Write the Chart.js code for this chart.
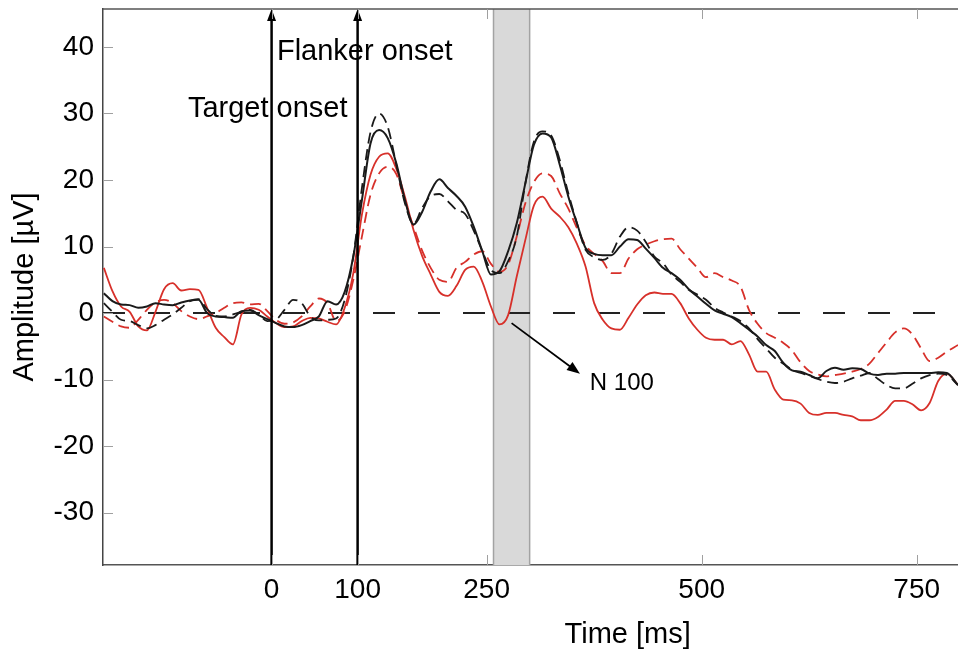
<!DOCTYPE html>
<html><head><meta charset="utf-8">
<script src="https://cdn.jsdelivr.net/npm/chart.js@4.4.1/dist/chart.umd.min.js"></script>
<style>html,body{margin:0;padding:0;background:#fff;}canvas{display:block;}</style>
</head><body>
<canvas id="c" width="958" height="655"></canvas>
<script>
// ---- data (time in ms, amplitude in µV) ----
const times = [-195,-185,-175,-165,-155,-145,-135,-125,-115,-105,-95,-85,-75,-65,-55,-45,-35,-25,-15,-5,5,15,25,35,45,55,65,75,85,95,105,115,125,135,145,155,165,175,185,195,205,215,225,235,245,255,265,275,285,295,305,315,325,335,345,355,365,375,385,395,405,415,425,435,445,455,465,475,485,495,505,515,525,535,545,555,565,575,585,595,605,615,625,635,645,655,665,675,685,695,705,715,725,735,745,755,765,775,785,798];
const blackSolid = [3.0,1.8,1.3,1.2,0.8,1.0,1.5,1.3,1.2,1.6,1.9,2.0,0.0,-0.5,-0.6,-0.7,0.3,0.4,-0.3,-0.9,-1.5,-2.0,-2.1,-1.8,-1.2,-0.5,1.8,1.3,3.2,8.5,17.0,25.5,27.5,26.3,22.5,17.0,13.3,15.2,18.3,20.1,18.8,17.6,16.0,13.0,9.3,5.8,6.3,9.3,13.5,19.5,25.3,27.0,26.4,22.3,17.5,13.5,9.8,8.9,8.7,8.7,10.0,11.1,11.0,9.7,8.3,6.8,6.0,5.0,3.6,2.5,1.4,0.4,-0.1,-0.6,-1.5,-2.5,-3.5,-4.8,-5.7,-7.5,-8.6,-8.8,-9.3,-9.8,-8.7,-8.2,-8.5,-8.3,-8.4,-9.1,-9.3,-9.1,-9.1,-9.0,-9.0,-9.0,-9.0,-8.9,-9.0,-10.8];
const blackDashed = [1.5,0.2,-1.0,-1.2,-1.8,-2.3,-1.8,-1.0,-0.2,0.8,1.8,2.1,0.6,-0.4,-0.5,-0.2,0.2,0.5,-0.2,-1.2,-1.0,0.5,2.0,1.5,-0.5,-1.1,-1.0,-0.8,2.0,8.5,18.8,27.2,30.0,28.0,22.3,16.5,13.4,15.8,17.6,17.9,16.8,15.5,14.9,12.4,9.3,6.5,6.0,7.8,11.5,19.5,25.8,27.3,26.7,23.0,18.0,13.5,9.5,8.4,8.0,8.9,11.5,12.9,12.4,10.7,8.5,7.5,5.8,4.7,3.5,2.8,2.0,0.8,0.1,-0.5,-1.2,-2.3,-3.9,-5.3,-6.7,-7.6,-8.5,-9.0,-9.4,-9.9,-10.3,-10.5,-10.3,-9.8,-9.4,-9.0,-9.9,-10.8,-11.3,-11.3,-10.6,-9.8,-9.3,-9.1,-9.3,-10.8];
const redSolid = [6.8,3.3,1.0,0.2,-2.0,-2.6,0.2,3.6,4.5,3.4,3.6,3.5,0.8,-2.2,-3.6,-4.7,-0.2,0.8,0.5,-0.5,-1.5,-2.1,-2.0,-1.2,-0.7,-0.8,-1.3,-1.7,0.8,6.0,14.8,20.8,23.5,24.0,21.7,17.5,12.5,8.6,5.8,3.2,2.6,4.1,6.5,7.0,4.7,1.0,-1.7,-0.3,5.5,11.0,16.2,17.5,15.7,14.5,12.9,10.4,7.0,1.5,-1.0,-2.3,-2.5,-0.7,1.3,2.7,3.1,2.9,2.9,1.5,-0.8,-2.5,-3.7,-4.0,-4.0,-4.7,-4.2,-6.2,-8.8,-8.8,-11.5,-13.0,-13.1,-13.6,-15.0,-15.3,-15.0,-15.0,-15.3,-15.5,-16.1,-16.1,-15.6,-14.5,-13.2,-13.2,-13.7,-14.6,-13.5,-10.2,-9.1,-10.8];
const redDashed = [-0.5,-1.3,-2.0,-2.2,-1.0,0.5,1.6,2.0,1.5,0.3,-0.5,-0.9,-0.5,0.0,0.8,1.5,1.6,1.3,1.4,0.3,-1.0,-1.6,-1.4,-0.5,1.0,2.2,1.5,-1.2,0.3,5.0,11.5,17.8,21.0,22.0,20.9,16.8,13.0,9.4,6.8,5.0,4.7,6.8,7.7,8.8,9.3,7.4,6.2,7.3,11.5,16.5,19.7,21.0,20.6,18.0,15.7,12.8,10.2,8.9,7.8,6.0,6.0,8.2,9.6,10.3,10.8,11.1,11.2,9.6,8.2,6.8,5.4,6.0,5.4,4.9,4.0,0.5,-1.6,-3.0,-3.7,-4.5,-5.6,-7.4,-8.7,-9.2,-9.5,-9.3,-9.1,-8.8,-8.4,-7.6,-6.0,-4.4,-2.9,-2.3,-3.2,-5.3,-7.2,-6.7,-5.8,-4.8];
const baselineTimes = [-196, 798];
const baselineValues = [0, 0];
const xTickValues = [0, 100, 250, 500, 750];
const yTickValues = [-30, -20, -10, 0, 10, 20, 30, 40];
const xRange = [-196, 798];
const yRange = [-37.85, 45.7];
const analysisWindow = [258, 300];
const onsetTimes = [0, 100];

const FONT = '"Liberation Sans", Arial, Helvetica, sans-serif';
const toXY = (xs, ys) => xs.map((t, i) => ({x: t, y: ys[i]}));
const BLACK = '#1a1a1a', RED = '#d7302a';

const decor = {
  id: 'decor',
  beforeDatasetsDraw(chart, args, o) {
    const {ctx, chartArea: ca, scales: {x}} = chart;
    const a = x.getPixelForValue(o.window[0]), b = x.getPixelForValue(o.window[1]);
    ctx.save();
    ctx.fillStyle = '#d9d9d9';
    ctx.fillRect(a, ca.top, b - a, ca.bottom - ca.top);
    ctx.strokeStyle = '#a3a3a3'; ctx.lineWidth = 1.5;
    ctx.beginPath();
    ctx.moveTo(a, ca.top); ctx.lineTo(a, ca.bottom);
    ctx.moveTo(b, ca.top); ctx.lineTo(b, ca.bottom);
    ctx.stroke();
    ctx.restore();
  },
  afterDatasetsDraw(chart, args, o) {
    const {ctx, chartArea: ca, scales: {x, y}} = chart;
    ctx.save();
    ctx.fillStyle = '#000';
    ctx.font = '29px ' + FONT;
    ctx.textAlign = 'left'; ctx.textBaseline = 'alphabetic';
    o.labels.forEach(l => ctx.fillText(l.text, x.getPixelForValue(l.t), y.getPixelForValue(l.v)));
    ctx.strokeStyle = '#000'; ctx.lineWidth = 2.5;
    o.onsets.forEach(t => {
      const px = x.getPixelForValue(t);
      ctx.beginPath(); ctx.moveTo(px, ca.bottom); ctx.lineTo(px, ca.top + 8); ctx.stroke();
      ctx.beginPath(); ctx.moveTo(px, ca.top); ctx.lineTo(px - 4.5, ca.top + 12); ctx.lineTo(px + 4.5, ca.top + 12); ctx.closePath(); ctx.fill();
    });
    const n = o.n100;
    const x0 = x.getPixelForValue(n.from[0]), y0 = y.getPixelForValue(n.from[1]);
    const x1 = x.getPixelForValue(n.to[0]), y1 = y.getPixelForValue(n.to[1]);
    const ang = Math.atan2(y1 - y0, x1 - x0), c = Math.cos(ang), s = Math.sin(ang);
    ctx.lineWidth = 1.8;
    ctx.beginPath(); ctx.moveTo(x0, y0); ctx.lineTo(x1 - 8 * c, y1 - 8 * s); ctx.stroke();
    ctx.beginPath(); ctx.moveTo(x1, y1);
    ctx.lineTo(x1 - 13 * c - 5 * s, y1 - 13 * s + 5 * c);
    ctx.lineTo(x1 - 13 * c + 5 * s, y1 - 13 * s - 5 * c);
    ctx.closePath(); ctx.fill();
    ctx.font = '24px ' + FONT;
    ctx.fillText(n.text, x.getPixelForValue(n.at[0]), y.getPixelForValue(n.at[1]));
    ctx.restore();
  },
  afterDraw(chart, args, o) {
    const {ctx, chartArea: ca, scales: {x, y}} = chart;
    ctx.save();
    ctx.strokeStyle = '#555'; ctx.lineWidth = 1.5;
    ctx.beginPath(); ctx.moveTo(ca.left, ca.top); ctx.lineTo(ca.right, ca.top); ctx.stroke();
    ctx.strokeStyle = '#a0a0a0'; ctx.lineWidth = 1;
    ctx.beginPath();
    yTickValues.forEach(v => { const py = Math.round(y.getPixelForValue(v)) + 0.5; ctx.moveTo(ca.left, py); ctx.lineTo(ca.left + 10, py); });
    xTickValues.forEach(v => { const px = Math.round(x.getPixelForValue(v)) + 0.5; ctx.moveTo(px, ca.bottom); ctx.lineTo(px, ca.bottom - 10); ctx.moveTo(px, ca.top); ctx.lineTo(px, ca.top + 10); });
    ctx.stroke();
    ctx.fillStyle = '#000';
    ctx.font = '29px ' + FONT;
    ctx.textAlign = 'center'; ctx.textBaseline = 'alphabetic';
    ctx.fillText(o.xTitle.text, x.getPixelForValue(o.xTitle.t), chart.height - 12);
    ctx.restore();
  }
};

new Chart(document.getElementById('c'), {
  type: 'line',
  data: {
    datasets: [
      {label: 'black solid', data: toXY(times, blackSolid), borderColor: BLACK, borderWidth: 2},
      {label: 'black dashed', data: toXY(times, blackDashed), borderColor: BLACK, borderWidth: 1.8, borderDash: [11, 6]},
      {label: 'red solid', data: toXY(times, redSolid), borderColor: RED, borderWidth: 1.8},
      {label: 'red dashed', data: toXY(times, redDashed), borderColor: RED, borderWidth: 1.8, borderDash: [11, 6]},
      {label: 'zero', data: toXY(baselineTimes, baselineValues), borderColor: '#222', borderWidth: 2, borderDash: [22, 23], cubicInterpolationMode: 'default', tension: 0}
    ]
  },
  options: {
    responsive: false,
    animation: false,
    devicePixelRatio: 1,
    layout: {padding: {top: 9, right: 0, left: 0, bottom: 0}},
    elements: {point: {radius: 0}, line: {cubicInterpolationMode: 'monotone', fill: false}},
    plugins: {
      legend: {display: false},
      tooltip: {enabled: false},
      decor: {
        window: analysisWindow,
        onsets: onsetTimes,
        labels: [
          {text: 'Flanker onset', t: 6.2, v: 38.1},
          {text: 'Target onset', t: -97.3, v: 29.4}
        ],
        n100: {from: [279, -1.5], to: [358.5, -9.1], text: 'N 100', at: [370, -11.5]},
        xTitle: {text: 'Time [ms]', t: 414}
      }
    },
    scales: {
      x: {
        type: 'linear', min: xRange[0], max: xRange[1],
        afterBuildTicks: s => { s.ticks = xTickValues.map(v => ({value: v})); },
        afterFit: s => { s.height = 90; s.paddingLeft = 0; s.paddingRight = 0; },
        grid: {display: false, drawTicks: false},
        border: {display: true, color: '#555', width: 1.5},
        ticks: {font: {size: 28, family: FONT}, color: '#000', padding: 8, maxRotation: 0, autoSkip: false}
      },
      y: {
        type: 'linear', min: yRange[0], max: yRange[1],
        afterBuildTicks: s => { s.ticks = yTickValues.map(v => ({value: v})); },
        afterFit: s => { s.width = 103; s.paddingTop = 0; s.paddingBottom = 0; },
        grid: {display: false, drawTicks: false},
        border: {display: true, color: '#444', width: 1.5},
        ticks: {font: {size: 28, family: FONT}, color: '#000', padding: 9},
        title: {display: true, text: 'Amplitude [µV]', font: {size: 29, family: FONT}, color: '#000', padding: {top: 8, bottom: 0}}
      }
    }
  },
  plugins: [decor]
});
</script>
</body></html>
